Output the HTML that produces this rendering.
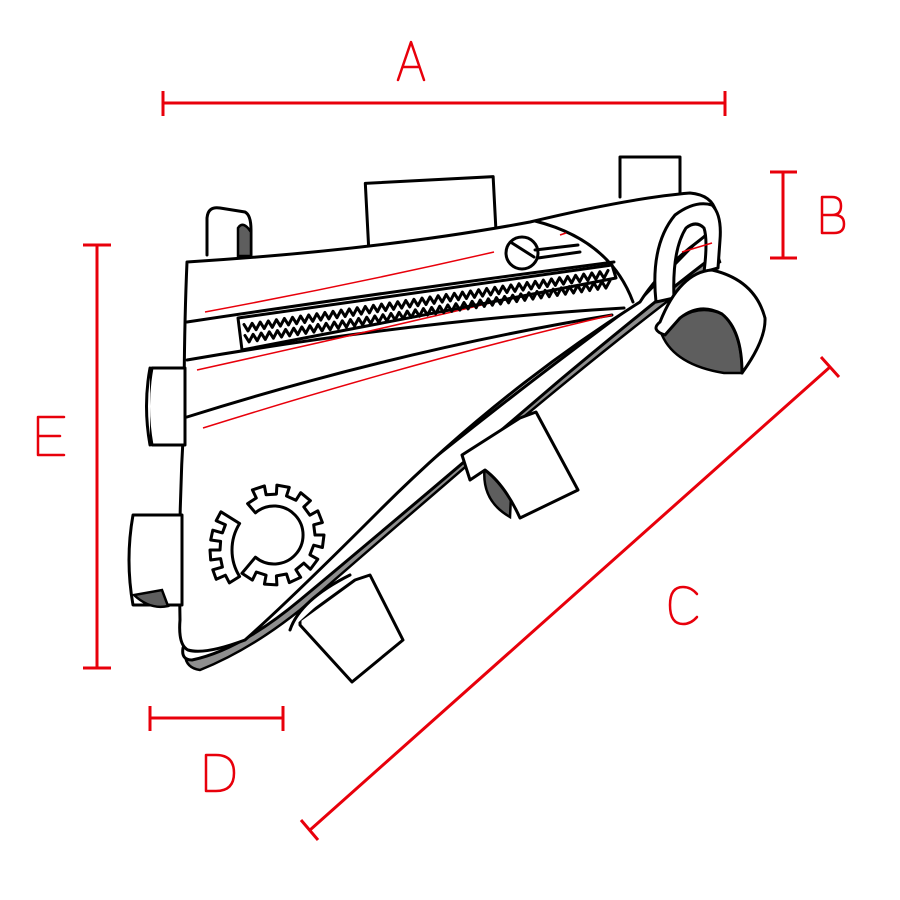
<!DOCTYPE html>
<html><head><meta charset="utf-8"><style>
html,body{margin:0;padding:0;background:#fff}
svg{display:block}
.r{stroke:#e8000b;stroke-width:3;fill:none}
.k{stroke:#000;stroke-width:3;fill:#fff;stroke-linejoin:round;stroke-linecap:round}
.n{stroke:#000;stroke-width:3;fill:none;stroke-linejoin:round;stroke-linecap:round}
.d{fill:#5e5e5e;stroke:#000;stroke-width:2.5}
.g{fill:#8e8e8e;stroke:#000;stroke-width:2.5}
.rl{stroke:#e8000b;stroke-width:1.5;fill:none}
</style></head><body>
<svg width="900" height="900" viewBox="0 0 900 900" xmlns="http://www.w3.org/2000/svg">
<!-- dimension lines -->
<path class="r" d="M163,103H725M163,91V116M725,91V116"/>
<path class="r" d="M783,172V258M770,172H797M770,258H797"/>
<path class="r" d="M97,245V668M83,245H111M83,668H111"/>
<path class="r" d="M150,718H283M150,706V731M283,706V731"/>
<path class="r" d="M310,830L830,367M301,820L318,840M821,357L839,377"/>
<g fill="none" stroke="#e8000b" stroke-width="2.5" stroke-linecap="round" stroke-linejoin="round">
<path d="M398,80L411,42L424,80M403,67H419"/>
<path d="M822,197V233H834Q844,233 844,224Q844,215 834,215H822M822,197H832Q841,197 841,206Q841,215 832,215"/>
<path d="M64,417H38V455H64M38,436H60"/>
<path d="M206,755V791H216Q234,791 234,773Q234,755 216,755Z"/>
<path d="M697,594Q691,587 683,587Q670,587 670,605Q670,624 683,624Q691,624 697,617"/>
</g>

<!-- top straps -->
<rect class="k" x="367" y="180" width="128" height="68" transform="rotate(-3 430 214)"/>
<path class="k" d="M620,197V157H680V195"/>
<path class="k" d="M207,255V218Q208,206 220,208L245,212Q251,215 251,230V255"/>
<path class="d" d="M238,256V228Q243,220 251,232V256Z"/>

<!-- bottom gray band & rim -->
<path class="g" d="M720,262Q640,320 520,420Q380,540 300,610Q250,650 200,670Q186,668 185,655L196,652Q250,640 330,570Q460,450 620,325Q680,280 716,250Z"/>
<path class="k" d="M716,222Q722,245 706,262Q650,305 560,380Q420,500 300,600Q240,650 192,660Q181,660 183,648L186,640Q230,630 300,570Q450,440 640,300Z"/>

<!-- main body -->
<path class="k" d="M187,262Q380,250 530,222Q630,198 690,193Q712,195 716,212Q716,228 700,240Q660,270 640,302Q500,390 380,510Q290,600 245,640Q205,655 188,650Q178,645 180,620Q178,520 184,420Q184,330 187,262Z"/>
<path class="n" d="M187,322Q400,290 614,262"/>
<path class="n" d="M187,360Q420,320 624,308"/>
<path class="n" d="M187,417Q400,350 612,315"/>
<path class="n" d="M535,221Q610,240 633,302"/>
<path class="rl" d="M205,312Q350,285 494,252"/>
<path class="rl" d="M197,370Q400,325 608,275"/>
<path class="rl" d="M203,428Q420,360 612,315"/>
<path class="rl" d="M560,235L566,233"/>
<!-- zipper -->
<path class="k" d="M238,318L612,265L616,278L242,350Z"/>
<path id="zz" class="n" stroke-width="2" d=""/>
<path id="zz2" class="n" stroke-width="2" d=""/>
<circle class="n" cx="522" cy="253" r="16"/>
<path class="n" d="M512,243L534,257M535,250L578,245M538,258L580,252"/>

<!-- right tip handle loop -->
<path class="k" d="M656,302Q650,245 675,215Q695,200 712,205Q722,215 720,240L718,268L704,272Q708,240 704,228Q696,220 686,228Q672,250 674,298Z"/>
<path class="rl" d="M682,252L712,243"/>

<!-- side tabs -->
<path class="k" d="M152,368H185V445H152Q145,406 152,368Z"/>
<path class="k" d="M150,368Q143,406 150,445"/>
<path class="k" d="M133,515H182V605H133Q125,560 133,515Z"/>
<path class="d" d="M134,595Q150,610 168,606L162,590Z"/>

<!-- bottom right loop -->
<path class="d" d="M662,335Q675,365 724,373L742,373Q742,332 722,314Q690,300 662,335Z"/>
<path class="k" d="M660,322Q680,272 712,270Q755,280 765,318Q766,340 742,373Q742,330 722,314Q700,302 680,318L665,335Q650,330 660,322Z"/>
<!-- middle loop -->
<path class="d" d="M485,465Q480,500 510,517L512,475Z"/>
<path class="k" d="M462,455L520,418L536,412L578,490L520,518Q505,485 485,470L470,480Z"/>
<!-- lower loop -->
<path class="k" d="M300,620L355,580L370,575L403,640L352,682L300,625Z"/>
<path class="k" d="M290,630Q300,600 350,575"/>

<!-- gear -->
<path id="gear" class="k" d=""/>
<path id="gear2" class="k" d=""/>
</svg>
<script>
(function(){
 function zig(id,x0,y0,x1,y1,amp,n){var d="";for(var i=0;i<=n;i++){var t=i/n;var x=x0+(x1-x0)*t,y=y0+(y1-y0)*t+(i%2?amp:-amp);d+=(i?"L":"M")+x.toFixed(1)+","+y.toFixed(1);}document.getElementById(id).setAttribute("d",d);}
 zig("zz",244,328,608,274,3.5,90);
 zig("zz2",245,339,610,284,3.5,90);
 var cx=274,cy=535,ro=41,rt=50,ri=29;
 var a0=-130,a1=130,nt=9,step=(a1-a0)/(nt*2),d="";
 for(var i=0;i<nt*2;i++){var aa=(a0+i*step)*Math.PI/180,ab=(a0+(i+1)*step)*Math.PI/180;var r=(i%2)?rt:ro;
  d+=(i?"L":"M")+(cx+r*Math.cos(aa)).toFixed(1)+","+(cy+r*Math.sin(aa)).toFixed(1)+"L"+(cx+r*Math.cos(ab)).toFixed(1)+","+(cy+r*Math.sin(ab)).toFixed(1);}
 var ea=a1*Math.PI/180,sa=a0*Math.PI/180;
 d+="L"+(cx+ri*Math.cos(ea)).toFixed(1)+","+(cy+ri*Math.sin(ea)).toFixed(1);
 d+="A"+ri+","+ri+" 0 1 0 "+(cx+ri*Math.cos(sa)).toFixed(1)+","+(cy+ri*Math.sin(sa)).toFixed(1)+"Z";
 document.getElementById("gear").setAttribute("d",d);
 var c2x=282,c2y=550,R1=50,R2=72;var b0=148,b1=212;
 var a=b0*Math.PI/180,b=b1*Math.PI/180;
 var e="M"+(c2x+R1*Math.cos(a)).toFixed(1)+","+(c2y+R1*Math.sin(a)).toFixed(1);
 e+="A"+R1+","+R1+" 0 0 1 "+(c2x+R1*Math.cos(b)).toFixed(1)+","+(c2y+R1*Math.sin(b)).toFixed(1);
 var n=4,st=(b0-b1)/(n*2);
 for(var i=0;i<n*2;i++){var q=(b1+i*st)*Math.PI/180,q2=(b1+(i+1)*st)*Math.PI/180;var r=(i%2)?R2-10:R2;
  e+="L"+(c2x+r*Math.cos(q)).toFixed(1)+","+(c2y+r*Math.sin(q)).toFixed(1)+"L"+(c2x+r*Math.cos(q2)).toFixed(1)+","+(c2y+r*Math.sin(q2)).toFixed(1);}
 e+="Z";
 document.getElementById("gear2").setAttribute("d",e);
})();
</script>
</body></html>
